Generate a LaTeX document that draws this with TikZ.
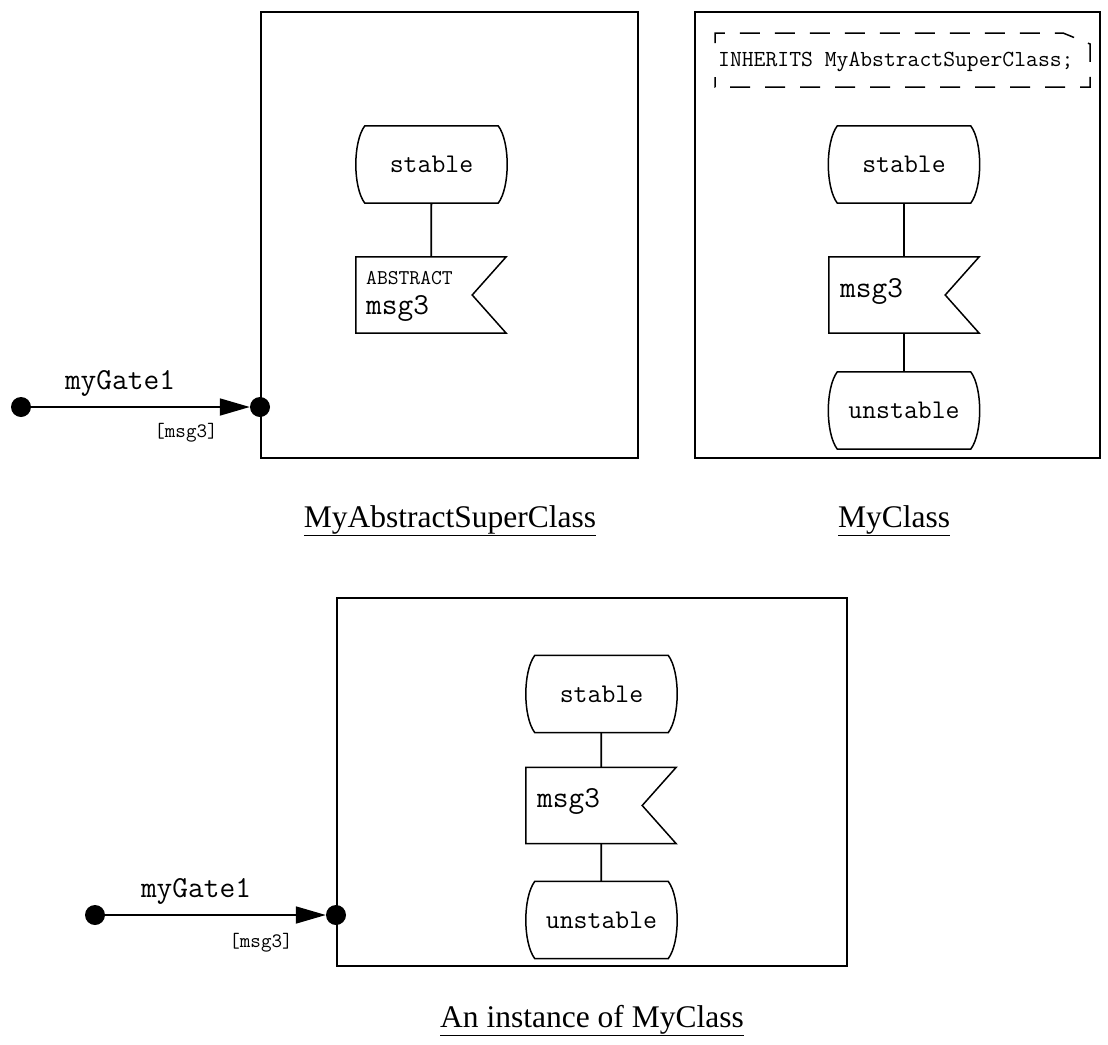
\documentclass[tikz,border=0pt]{standalone}
\usepackage{fontspec}
\setmainfont{Liberation Serif}
\usetikzlibrary{arrows.meta,positioning,calc}

\tikzset{
  classframe/.style={draw, line width=2pt, inner sep=0pt},
  shapeline/.style={line width=1.5pt},
  link/.style={line width=1.8pt},
  statebox/.style={inner sep=0pt, minimum width=151pt, minimum height=77pt,
    font=\fontsize{27}{30}\selectfont\ttfamily},
  inputbox/.style={inner sep=0pt, minimum width=150pt, minimum height=76pt},
  sigtext/.style={inner sep=0pt, anchor=base west, font=\fontsize{30.5}{34}\selectfont\ttfamily},
  abstext/.style={inner sep=0pt, anchor=base west, font=\fontsize{21}{24}\selectfont\ttfamily},
  gatedot/.style={circle, fill, inner sep=0pt, minimum size=20pt},
  gatearrow/.style={line width=1.8pt, -{Triangle[length=30pt,width=17pt]}},
  gatelabel/.style={inner sep=0pt, anchor=base, font=\fontsize{30.5}{34}\selectfont\ttfamily},
  siglist/.style={inner sep=0pt, anchor=base, font=\fontsize{20.5}{24}\selectfont\ttfamily},
  classtitle/.style={inner sep=0pt, anchor=base, font=\fontsize{31.5}{36}\selectfont},
  commenttext/.style={inner sep=0pt, anchor=west, font=\fontsize{23}{26}\selectfont\ttfamily}
}

% 状態の外形（上下は直線，左右はふくらんだ曲線）
\newcommand{\stateshape}[1]{%
  \draw[shapeline] ($(#1.north west)+(9,0)$) -- ($(#1.north east)+(-9,0)$)
    .. controls ($(#1.north east)+(3,16)$) and ($(#1.south east)+(3,-16)$) .. ($(#1.south east)+(-9,0)$)
    -- ($(#1.south west)+(9,0)$)
    .. controls ($(#1.south west)+(-3,-16)$) and ($(#1.north west)+(-3,16)$) .. cycle;}
% 入力シンボルの外形（右側に切り込み）
\newcommand{\inputshape}[1]{%
  \draw[shapeline] (#1.north west) -- (#1.north east) -- ($(#1.east)+(-34,0)$)
    -- (#1.south east) -- (#1.south west) -- cycle;}

\begin{document}
\begin{tikzpicture}[x=1pt,y=-1pt]
  \useasboundingbox (0,0) rectangle (1108,1044); % 全体の大きさ

  \node[classframe, minimum width=377pt, minimum height=446pt] (superbox) at (449.5,235) {}; % MyAbstractSuperClass の枠
  \node[statebox] (superstable) at (431.5,164.5) {stable}; % 状態 stable
  \node[inputbox] (superinput) at (431,295) {}; % 入力 msg3
  \inputshape{superinput}
  \stateshape{superstable}
  \node[abstext] (superabs) at (366,284) {ABSTRACT};
  \node[sigtext] (supermsg) at (366,314) {msg3};
  \draw[link] (superstable) -- (superinput);
  \node[gatedot] (supergatea) at (21,407) {}; % ゲートの始点
  \node[gatedot] (supergateb) at (superbox.west |- supergatea) {}; % ゲートの終点（枠の上）
  \draw[gatearrow] (supergatea) -- (supergateb);
  \node[gatelabel] (supergatename) at (120,389) {myGate1};
  \node[siglist] (supersig) at (186,437) {[msg3]};
  \node[classtitle] (supertitle) at (450,527) {\underline{MyAbstractSuperClass}};

  \node[classframe, minimum width=405pt, minimum height=446pt] (mybox) at (897.5,235) {}; % MyClass の枠
  \draw[shapeline, dash pattern=on 20pt off 15pt, dash phase=9.8pt] (715,77) -- (715,87) -- (1090,87)
    -- (1090,44) -- (1063,33) -- (715,33) -- (715,43); % INHERITS の注釈（点線）
  \node[commenttext] (mycomment) at (718,62) {INHERITS MyAbstractSuperClass;};
  \node[statebox] (mystable) at (904,164.5) {stable};
  \node[inputbox] (myinput) at (904,295) {};
  \node[statebox] (myunstable) at (904,410.5) {unstable};
  \stateshape{mystable}
  \inputshape{myinput}
  \stateshape{myunstable}
  \node[sigtext] (mymsg) at (840,297) {msg3};
  \draw[link] (mystable) -- (myinput);
  \draw[link] (myinput) -- (myunstable);
  \node[classtitle] (mytitle) at (894,527) {\underline{MyClass}};

  \node[classframe, minimum width=510pt, minimum height=368pt] (instbox) at (592,782) {}; % インスタンスの枠
  \node[statebox] (inststable) at (601.5,694) {stable};
  \node[inputbox] (instinput) at (601,805.5) {};
  \node[statebox] (instunstable) at (601.5,920) {unstable};
  \stateshape{inststable}
  \inputshape{instinput}
  \stateshape{instunstable}
  \node[sigtext] (instmsg) at (537,807.5) {msg3};
  \draw[link] (inststable) -- (instinput);
  \draw[link] (instinput) -- (instunstable);
  \node[gatedot] (instgatea) at (95,915) {};
  \node[gatedot] (instgateb) at (instbox.west |- instgatea) {};
  \draw[gatearrow] (instgatea) -- (instgateb);
  \node[gatelabel] (instgatename) at (196,897) {myGate1};
  \node[siglist] (instsig) at (261,947) {[msg3]};
  \node[classtitle] (insttitle) at (592,1027) {\underline{An instance of MyClass}};
\end{tikzpicture}
\end{document}
